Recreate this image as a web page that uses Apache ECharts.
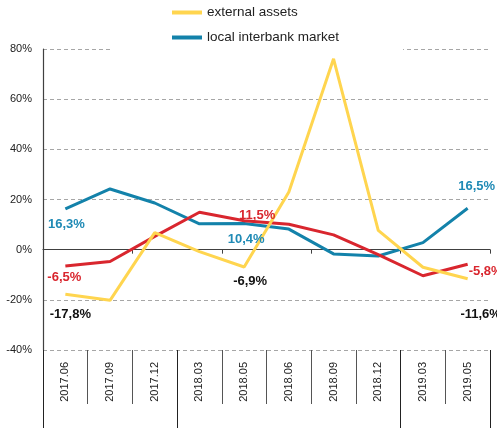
<!DOCTYPE html>
<html>
<head>
<meta charset="utf-8">
<script src="https://cdn.jsdelivr.net/npm/echarts@6/dist/echarts.min.js"></script>
<style>
    html, body { margin: 0; padding: 0; background: #fff; }
    #chart { width: 497px; height: 428px; }
</style>
</head>
<body>
<div id="chart"></div>
<script>
// 数据
var categories = ['2017.06', '2017.09', '2017.12', '2018.03', '2018.05', '2018.06', '2018.09', '2018.12', '2019.03', '2019.05'];
var externalAssets = [-17.8, -20.2, 6.8, -0.8, -6.9, 23.0, 76.1, 7.7, -7.0, -11.6];
var localInterbank = [16.3, 24.2, 18.6, 10.3, 10.4, 8.2, -1.7, -2.5, 2.8, 16.5];
var otherSeries = [-6.5, -4.7, 5.3, 14.9, 11.5, 10.1, 5.9, -2.0, -10.4, -5.8];
var yTicks = [-40, -20, 0, 20, 40, 60, 80];

var font = '"Liberation Sans", Arial, sans-serif';

// 年份分组的起始位置（分隔竖线）
var yearStarts = [];
categories.forEach(function (c, i) {
    if (i === 0 || c.slice(0, 4) !== categories[i - 1].slice(0, 4)) yearStarts.push(i);
});

function fmt(p) {
    return p.value.toFixed(1).replace('.', ',') + '%';
}

// 只给部分点加标签
function buildData(values, labels, color) {
    return values.map(function (v, i) {
        var item = { value: v };
        if (labels[i]) {
            item.label = {
                show: true,
                position: labels[i].position,
                offset: labels[i].offset,
                color: color,
                fontWeight: 'bold',
                fontSize: 13,
                fontFamily: font,
                formatter: fmt
            };
        }
        return item;
    });
}

var myChart = echarts.init(document.getElementById('chart'));
var option = {
    animation: false,
    backgroundColor: '#fff',
    legend: {
        data: ['external assets', 'local interbank market'],
        orient: 'vertical',
        left: 110,
        top: 0,
        padding: [5, 64, 5, 62],
        itemGap: 10,
        itemWidth: 30,
        itemHeight: 4,
        icon: 'rect',
        backgroundColor: '#fff',
        textStyle: { fontSize: 13.5, color: '#222', fontFamily: font, lineHeight: 15 }
    },
    grid: { left: 43, right: 7, top: 49, bottom: 78, outerBoundsMode: 'none' },
    xAxis: [
        {
            type: 'category',
            data: categories,
            position: 'bottom',
            axisLine: { onZero: true, lineStyle: { color: '#404040', width: 1.2 } },
            axisTick: { show: true, length: 4, lineStyle: { color: '#404040' } },
            axisLabel: { show: false },
            splitLine: { show: false }
        },
        {
            type: 'category',
            data: categories,
            position: 'bottom',
            axisLine: { show: true, onZero: false, lineStyle: { opacity: 0 } },
            axisTick: { show: true, length: 54, lineStyle: { color: '#555' } },
            axisLabel: { rotate: 90, margin: 12, fontSize: 11, color: '#222', fontFamily: font },
            splitLine: { show: false }
        },
        {
            type: 'category',
            data: categories,
            position: 'bottom',
            axisLine: { show: true, onZero: false, lineStyle: { opacity: 0 } },
            axisTick: {
                show: true,
                length: 78,
                interval: function (i) { return yearStarts.indexOf(i) >= 0; },
                lineStyle: { color: '#222' }
            },
            axisLabel: { show: false },
            splitLine: { show: false }
        }
    ],
    yAxis: {
        type: 'value',
        min: yTicks[0],
        max: yTicks[yTicks.length - 1],
        interval: yTicks[1] - yTicks[0],
        axisLine: { show: true, lineStyle: { color: '#404040', width: 1.2 } },
        axisTick: { show: false },
        axisLabel: { formatter: '{value}%', fontSize: 11, color: '#222', margin: 11, fontFamily: font },
        splitLine: { lineStyle: { color: '#a6a6a6', type: [4, 3] } }
    },
    series: [
        {
            name: 'local interbank market',
            type: 'line',
            data: buildData(localInterbank, {
                0: { position: 'bottom', offset: [1, 4] },
                4: { position: 'bottom', offset: [2, 4] },
                9: { position: 'top', offset: [9, -10] }
            }, '#1f8ab5'),
            color: '#1382aa',
            lineStyle: { width: 3 },
            symbol: 'circle',
            symbolSize: 0,
            showAllSymbol: true
        },
        {
            name: 'other',
            type: 'line',
            data: buildData(otherSeries, {
                0: { position: 'bottom', offset: [-1, 0] },
                4: { position: 'top', offset: [13, 6] },
                9: { position: 'bottom', offset: [18, -4] }
            }, '#d9262e'),
            color: '#d9262e',
            lineStyle: { width: 3 },
            symbol: 'circle',
            symbolSize: 0,
            showAllSymbol: true
        },
        {
            name: 'external assets',
            type: 'line',
            data: buildData(externalAssets, {
                0: { position: 'bottom', offset: [5, 9] },
                4: { position: 'bottom', offset: [6, 3] },
                9: { position: 'bottom', offset: [13, 24] }
            }, '#111'),
            color: '#ffd54f',
            lineStyle: { width: 3 },
            symbol: 'circle',
            symbolSize: 0,
            showAllSymbol: true
        }
    ]
};
myChart.setOption(option);
</script>
</body>
</html>
